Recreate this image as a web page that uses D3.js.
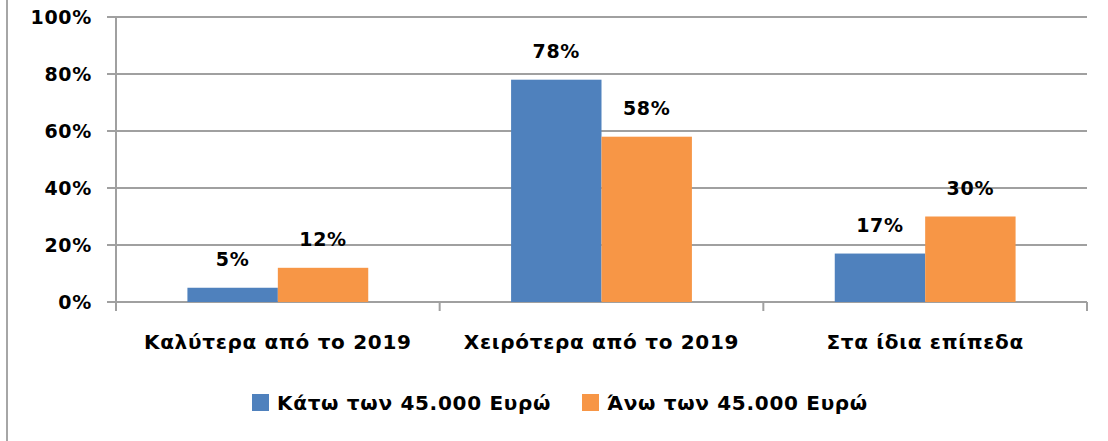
<!DOCTYPE html>
<html lang="el">
<head>
<meta charset="UTF-8">
<title>Chart</title>
<script src="https://d3js.org/d3.v7.min.js"></script>
<style>
  body { margin: 0; background: #fff; }
  text { font-family: "DejaVu Sans", Verdana, sans-serif; font-weight: bold; fill: #000; letter-spacing: 0.7px; }
</style>
</head>
<body>
<div id="chart"></div>
<script>
var width = 1108, height = 441;

var categories = ["Καλύτερα από το 2019", "Χειρότερα από το 2019", "Στα ίδια επίπεδα"];
var seriesNames = ["Κάτω των 45.000 Ευρώ", "Άνω των 45.000 Ευρώ"];
var below45 = [5, 78, 17];
var above45 = [12, 58, 30];
var yTicks = [0, 20, 40, 60, 80, 100];
var colors = ["#4F81BD", "#F79646"];

var margin = {top: 17, left: 116, right: 21, bottom: 139};
var plotW = width - margin.left - margin.right,
    plotH = height - margin.top - margin.bottom;

var svg = d3.select("#chart").append("svg")
    .attr("width", width).attr("height", height);

// outer frame (only left edge visible in the crop)
svg.append("line").attr("x1", 7).attr("x2", 7).attr("y1", 0).attr("y2", height)
    .attr("stroke", "#a6a6a6").attr("stroke-width", 2);

var g = svg.append("g").attr("transform", "translate(" + margin.left + "," + margin.top + ")");

var x = d3.scaleBand().domain(categories).range([0, plotW]).paddingInner(0).paddingOuter(0);
var y = d3.scaleLinear().domain([0, 100]).range([plotH, 0]);
var x1 = d3.scaleBand().domain([0, 1]).range([0, x.bandwidth()]).paddingInner(0).paddingOuter(0.79);

// gridlines with left ticks
g.append("g").selectAll("line").data(yTicks).enter().append("line")
    .attr("x1", -9).attr("x2", plotW)
    .attr("y1", function(d) { return y(d); }).attr("y2", function(d) { return y(d); })
    .attr("stroke", "#a0a0a0").attr("stroke-width", 2);

// y axis
var yAxis = d3.axisLeft(y).tickValues(yTicks).tickSize(0).tickPadding(24)
    .tickFormat(function(d) { return d + "%"; });
var ya = g.append("g").call(yAxis);
ya.select(".domain").remove();
ya.selectAll("text").style("font-size", "19px").attr("font-family", null);
g.append("line").attr("x1", 0).attr("x2", 0).attr("y1", 0).attr("y2", plotH + 9)
    .attr("stroke", "#a0a0a0").attr("stroke-width", 2);

// x axis
var xAxis = d3.axisBottom(x).tickSize(0).tickPadding(33);
var xa = g.append("g").attr("transform", "translate(0," + plotH + ")").call(xAxis);
xa.select(".domain").remove();
xa.selectAll("text").style("font-size", "20px").attr("font-family", null);
var bounds = categories.map(function(c) { return x(c); }).concat([plotW]);
g.append("g").selectAll("line").data(bounds).enter().append("line")
    .attr("x1", function(d) { return d; }).attr("x2", function(d) { return d; })
    .attr("y1", plotH).attr("y2", plotH + 9)
    .attr("stroke", "#a0a0a0").attr("stroke-width", 2);

// bars
var rows = categories.map(function(c, i) { return {cat: c, vals: [below45[i], above45[i]]}; });
var grp = g.selectAll(".grp").data(rows).enter().append("g")
    .attr("transform", function(d) { return "translate(" + x(d.cat) + ",0)"; });
grp.selectAll("rect").data(function(d) { return d.vals; }).enter().append("rect")
    .attr("x", function(d, i) { return x1(i); })
    .attr("y", function(d) { return y(d); })
    .attr("width", x1.bandwidth())
    .attr("height", function(d) { return plotH - y(d); })
    .attr("fill", function(d, i) { return colors[i]; });
grp.selectAll(".lbl").data(function(d) { return d.vals; }).enter().append("text")
    .attr("x", function(d, i) { return x1(i) + x1.bandwidth() / 2; })
    .attr("y", function(d) { return y(d) - 22; })
    .attr("text-anchor", "middle")
    .style("font-size", "19px")
    .text(function(d) { return d + "%"; });

// legend
var legX = [252, 582];
var leg = svg.selectAll(".leg").data(seriesNames).enter().append("g")
    .attr("transform", function(d, i) { return "translate(" + legX[i] + ",394)"; });
leg.append("rect").attr("width", 17).attr("height", 17)
    .attr("fill", function(d, i) { return colors[i]; });
leg.append("text").attr("x", 25).attr("y", 9).attr("dy", "0.35em")
    .style("font-size", "20px")
    .text(function(d) { return d; });
</script>
</body>
</html>
